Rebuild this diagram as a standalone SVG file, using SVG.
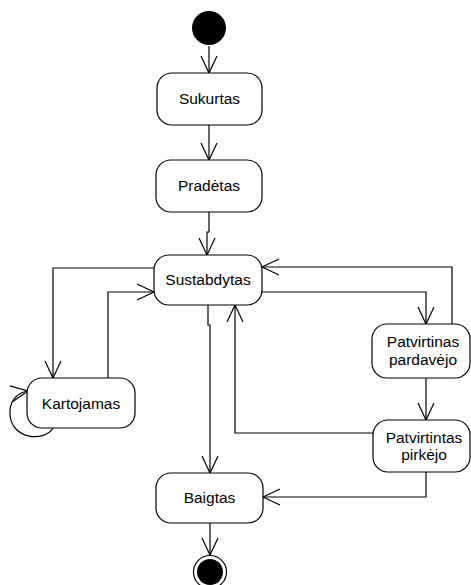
<svg xmlns="http://www.w3.org/2000/svg" width="471" height="585" viewBox="0 0 471 585">
  <style>
    .state { fill: #fff; stroke: #000; stroke-width: 1.2; }
    .label { font-family: "Liberation Sans", Arial, sans-serif; font-size: 15.5px; fill: #000; text-anchor: middle; }
    .edge { fill: none; stroke: #000; stroke-width: 1.2; marker-end: url(#open); }
  </style>
  <defs>
    <marker id="open" markerUnits="userSpaceOnUse" markerWidth="20" markerHeight="20" refX="17" refY="8" orient="auto" overflow="visible">
      <path d="M0,0 L17,8 L0,16" fill="none" stroke="#000" stroke-width="1.2"/>
    </marker>
  </defs>
  <rect width="471" height="585" fill="#fff"/>

  <g id="connectors">
    <path class="edge" d="M209,46 L209,73"/>
    <path class="edge" d="M209,125 L209,160"/>
    <path class="edge" d="M209,212 L209,232 L207,232 L207,255"/>
    <path class="edge" d="M154,268 L53,268 L53,378"/>
    <path class="edge" d="M108,378 L108,292 L154,292"/>
    <path class="edge" d="M53,428 C45,442 12,440 10,415 C9,402 16,393 28,391"/>
    <path class="edge" d="M262,292 L426,292 L426,324"/>
    <path class="edge" d="M452,324 L452,267 L262,267"/>
    <path class="edge" d="M426,378 L426,420"/>
    <path class="edge" d="M373,433 L235,433 L235,305"/>
    <path class="edge" d="M208,305 L208,325 L210,325 L210,473"/>
    <path class="edge" d="M426,472 L426,497 L263,497"/>
    <path class="edge" d="M210,523 L210,555"/>
  </g>

  <g id="start">
    <circle cx="209" cy="28" r="17" fill="#000"/>
  </g>

  <g id="sukurtas">
    <rect class="state" x="157" y="73" width="105" height="52" rx="15"/>
    <text class="label" x="209.5" y="104">Sukurtas</text>
  </g>

  <g id="pradetas">
    <rect class="state" x="156" y="160" width="106" height="52" rx="15"/>
    <text class="label" x="209" y="191">Pradėtas</text>
  </g>

  <g id="sustabdytas">
    <rect class="state" x="154" y="255" width="108" height="50" rx="15"/>
    <text class="label" x="208" y="285">Sustabdytas</text>
  </g>

  <g id="kartojamas">
    <rect class="state" x="27" y="378" width="108" height="50" rx="15"/>
    <text class="label" x="81" y="409">Kartojamas</text>
  </g>

  <g id="patvirtinas-pardavejo">
    <rect class="state" x="372" y="324" width="98" height="54" rx="15"/>
    <text class="label" x="423" y="347">Patvirtinas</text>
    <text class="label" x="423" y="365">pardavėjo</text>
  </g>

  <g id="patvirtintas-pirkejo">
    <rect class="state" x="373" y="420" width="97" height="52" rx="15"/>
    <text class="label" x="424" y="443">Patvirtintas</text>
    <text class="label" x="424" y="460">pirkėjo</text>
  </g>

  <g id="baigtas">
    <rect class="state" x="156" y="473" width="107" height="50" rx="15"/>
    <text class="label" x="209.5" y="503">Baigtas</text>
  </g>

  <g id="end">
    <circle cx="210" cy="572" r="16.5" fill="#fff" stroke="#000" stroke-width="1.2"/>
    <circle cx="210" cy="572" r="13" fill="#000"/>
  </g>
</svg>
